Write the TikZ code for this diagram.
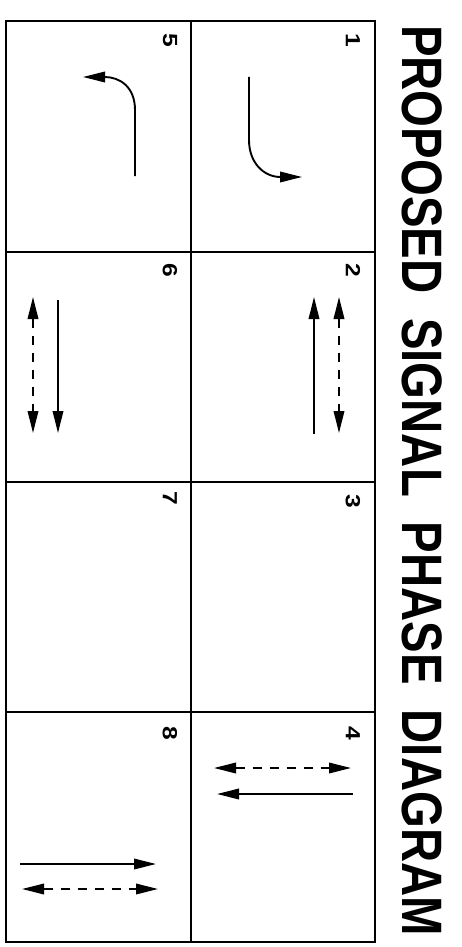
\documentclass[tikz,border=0pt]{standalone}
\usepackage{fontspec}
\setmainfont{Liberation Sans}
\usetikzlibrary{arrows.meta}
\begin{document}
\begin{tikzpicture}[x=1pt,y=-1pt,
  gridline/.style={line width=1.8pt},
  tipA/.tip={Triangle[length=22pt,width=10.5pt]},
  arr/.style={line width=1.9pt,-tipA},
  darr/.style={line width=1.9pt,dash pattern=on 9pt off 8pt,tipA-tipA},
  num/.style={rotate=-90,inner sep=0pt,font=\fontsize{20.5}{22}\selectfont\bfseries},
]
\useasboundingbox (0,0) rectangle (461,947);
% grid
\draw[gridline] (6,21) rectangle (375,942);
\draw[gridline] (191,21) -- (191,942);
\foreach \yy in {252,482,712} \draw[gridline] (6,\yy) -- (375,\yy);
% title
\node[rotate=-90,inner sep=0pt,font=\fontsize{57}{60}\selectfont\bfseries] (title) at (422,480.5)
  {\scalebox{0.83}[1]{PROPOSED\hspace{30pt}SIGNAL\hspace{30pt}PHASE\hspace{30pt}DIAGRAM}};
% phase numbers
\node[num] (n1) at (353,40) {\scalebox{1.2}[1]{1}};
\node[num] (n2) at (353,270) {\scalebox{1.2}[1]{2}};
\node[num] (n3) at (353,501) {\scalebox{1.2}[1]{3}};
\node[num] (n4) at (353,733) {\scalebox{1.2}[1]{4}};
\node[num] (n5) at (170,40) {\scalebox{1.2}[1]{5}};
\node[num] (n6) at (170,270) {\scalebox{1.2}[1]{6}};
\node[num] (n7) at (170,498) {\scalebox{1.2}[1]{7}};
\node[num] (n8) at (170,733) {\scalebox{1.2}[1]{8}};
% phase 1
\draw[arr] (249,77) -- (249,140) .. controls (249,163) and (264,177) .. (302,177);
% phase 5
\draw[arr] (135,176) -- (135,110) .. controls (135,87) and (120,77) .. (83,77);
% phase 2
\draw[arr] (314,434) -- (314,297);
\draw[darr] (339,297) -- (339,433);
% phase 6
\draw[darr] (33,297) -- (33,433);
\draw[arr] (58,300) -- (58,433);
% phase 4
\draw[darr] (214,768) -- (351,768);
\draw[arr] (353,794) -- (217,794);
% phase 8
\draw[arr] (20,864) -- (156,864);
\draw[darr] (22,889) -- (158,889);
\end{tikzpicture}
\end{document}
